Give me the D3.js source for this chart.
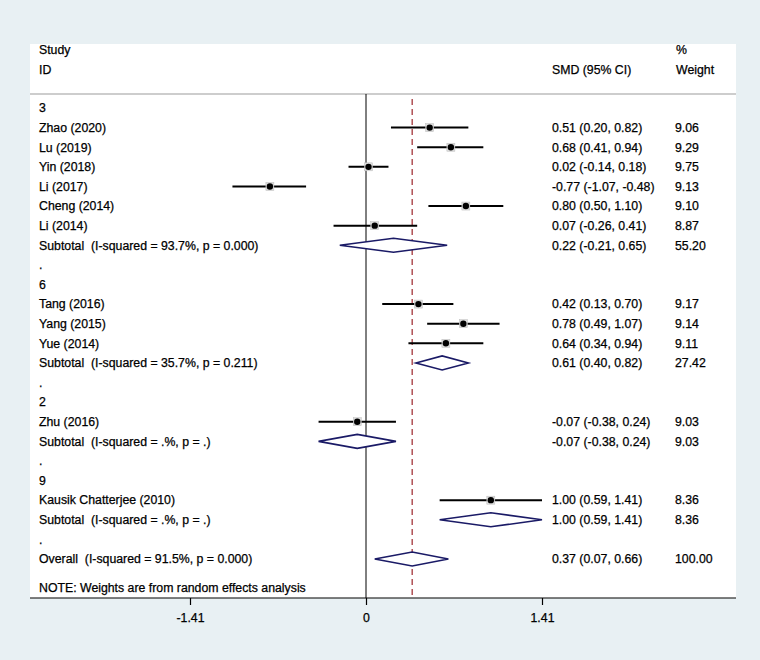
<!DOCTYPE html>
<html><head><meta charset="utf-8">
<script src="https://cdn.jsdelivr.net/npm/d3@7"></script>
<style>html,body{margin:0;padding:0;background:#e8f0f3;}svg{display:block;}text{white-space:pre;}</style>
</head><body>
<svg id="c" width="760" height="660"></svg>
<script>
// ---- data ----
const groupIds = ["3", "6", "2", "9"];
const studyNames = ["Zhao (2020)", "Lu (2019)", "Yin (2018)", "Li (2017)", "Cheng (2014)", "Li (2014)",
  "Tang (2016)", "Yang (2015)", "Yue (2014)", "Zhu (2016)", "Kausik Chatterjee (2010)"];
const studyGroup = ["3", "3", "3", "3", "3", "3", "6", "6", "6", "2", "9"];
const studySMD = [0.51, 0.68, 0.02, -0.77, 0.80, 0.07, 0.42, 0.78, 0.64, -0.07, 1.00];
const studyLo = [0.20, 0.41, -0.14, -1.07, 0.50, -0.26, 0.13, 0.49, 0.34, -0.38, 0.59];
const studyHi = [0.82, 0.94, 0.18, -0.48, 1.10, 0.41, 0.70, 1.07, 0.94, 0.24, 1.41];
const studyWeight = [9.06, 9.29, 9.75, 9.13, 9.10, 8.87, 9.17, 9.14, 9.11, 9.03, 8.36];
const subLabel = ["Subtotal  (I-squared = 93.7%, p = 0.000)", "Subtotal  (I-squared = 35.7%, p = 0.211)",
  "Subtotal  (I-squared = .%, p = .)", "Subtotal  (I-squared = .%, p = .)"];
const subSMD = [0.22, 0.61, -0.07, 1.00];
const subLo = [-0.21, 0.40, -0.38, 0.59];
const subHi = [0.65, 0.82, 0.24, 1.41];
const subWeight = [55.20, 27.42, 9.03, 8.36];
const overallLabel = "Overall  (I-squared = 91.5%, p = 0.000)";
const overall = {smd: 0.37, lo: 0.07, hi: 0.66, w: 100.00};
const tickValues = [-1.41, 0, 1.41];
const tickLabels = ["-1.41", "0", "1.41"];
const noteText = "NOTE: Weights are from random effects analysis";

// ---- rows ----
const rows = [];
groupIds.forEach((g, gi) => {
  rows.push({type: "group", label: g});
  studyNames.forEach((n, i) => {
    if (studyGroup[i] === g) rows.push({type: "study", label: n, est: studySMD[i], lo: studyLo[i], hi: studyHi[i], w: studyWeight[i]});
  });
  rows.push({type: "sub", label: subLabel[gi], est: subSMD[gi], lo: subLo[gi], hi: subHi[gi], w: subWeight[gi]});
  rows.push({type: "dot", label: "."});
});
rows.push({type: "sub", label: overallLabel, est: overall.smd, lo: overall.lo, hi: overall.hi, w: overall.w});

const svg = d3.select("#c");
const font = "'Liberation Sans', Arial, sans-serif";
const fs = 12.3;
const panel = {x0: 30, x1: 736, y0: 44, y1: 598};

svg.append("rect").attr("x", panel.x0).attr("y", panel.y0)
  .attr("width", panel.x1 - panel.x0).attr("height", panel.y1 - panel.y0).attr("fill", "#fff");

const x = d3.scaleLinear().domain([-1.41, 1.41]).range([190, 542]);
const y = d3.scaleLinear().domain([0, rows.length - 1]).range([108, 559]);

const f2 = d3.format(".2f");
const fmt = v => f2(v).replace("\u2212", "-");
const txt = (sel) => sel.attr("font-family", font).attr("font-size", fs).attr("fill", "#000")
  .attr("stroke", "#000").attr("stroke-width", 0.25).attr("xml:space", "preserve");

// header
txt(svg.append("text").attr("x", 39).attr("y", 54).text("Study"));
txt(svg.append("text").attr("x", 39).attr("y", 74).text("ID"));
txt(svg.append("text").attr("x", 552).attr("y", 74).text("SMD (95% CI)"));
txt(svg.append("text").attr("x", 676).attr("y", 54).text("%"));
txt(svg.append("text").attr("x", 676).attr("y", 74).text("Weight"));
svg.append("line").attr("x1", panel.x0).attr("x2", panel.x1).attr("y1", 94).attr("y2", 94)
  .attr("stroke", "#bdbdbd").attr("stroke-width", 1.5);

// null line
svg.append("line").attr("x1", x(0)).attr("x2", x(0)).attr("y1", 94).attr("y2", panel.y1)
  .attr("stroke", "#000").attr("stroke-width", 1);
// overall dashed line
svg.append("line").attr("x1", x(overall.smd)).attr("x2", x(overall.smd)).attr("y1", 99).attr("y2", panel.y1)
  .attr("stroke", "#a3363b").attr("stroke-width", 1.3).attr("stroke-dasharray", "6,4");

// rows
rows.forEach((r, i) => {
  const yy = y(i);
  txt(svg.append("text").attr("x", 39).attr("y", yy).attr("dy", "0.35em").text(r.label));
  if (r.type === "study") {
    svg.append("line").attr("x1", x(r.lo)).attr("x2", x(r.hi)).attr("y1", yy).attr("y2", yy)
      .attr("stroke", "#000").attr("stroke-width", 2);
    svg.append("rect").attr("x", x(r.est) - 4).attr("y", yy - 4).attr("width", 8).attr("height", 8)
      .attr("fill", "#dcdcdc").attr("stroke", "#bcbcbc").attr("stroke-width", 0.5);
    svg.append("circle").attr("cx", x(r.est)).attr("cy", yy).attr("r", 3.2).attr("fill", "#000");
  }
  if (r.type === "sub") {
    const pts = [[x(r.lo), yy], [x(r.est), yy - 7], [x(r.hi), yy], [x(r.est), yy + 7]];
    svg.append("path").attr("d", d3.line()(pts) + "Z").attr("fill", "#fff")
      .attr("stroke", "#1a1a66").attr("stroke-width", 1.6);
  }
  if (r.type === "study" || r.type === "sub") {
    txt(svg.append("text").attr("x", 552).attr("y", yy).attr("dy", "0.35em")
      .text(`${fmt(r.est)} (${fmt(r.lo)}, ${fmt(r.hi)})`));
    txt(svg.append("text").attr("x", 675).attr("y", yy).attr("dy", "0.35em").text(fmt(r.w)));
  }
});

// note
txt(svg.append("text").attr("x", 39).attr("y", 588).attr("dy", "0.35em").text(noteText));

// axis
svg.append("line").attr("x1", panel.x0).attr("x2", panel.x1).attr("y1", panel.y1).attr("y2", panel.y1)
  .attr("stroke", "#000").attr("stroke-width", 1.2);
const axis = d3.axisBottom(x).tickValues(tickValues).tickFormat((d, i) => tickLabels[i]).tickSize(7).tickPadding(8);
const ag = svg.append("g").attr("transform", `translate(0,${panel.y1})`).call(axis);
ag.select(".domain").remove();
ag.selectAll("text").attr("font-family", font).attr("font-size", fs).attr("fill", "#000")
  .attr("stroke", "#000").attr("stroke-width", 0.25);
ag.selectAll("line").attr("stroke", "#000").attr("stroke-width", 1.2);
</script>
</body></html>
